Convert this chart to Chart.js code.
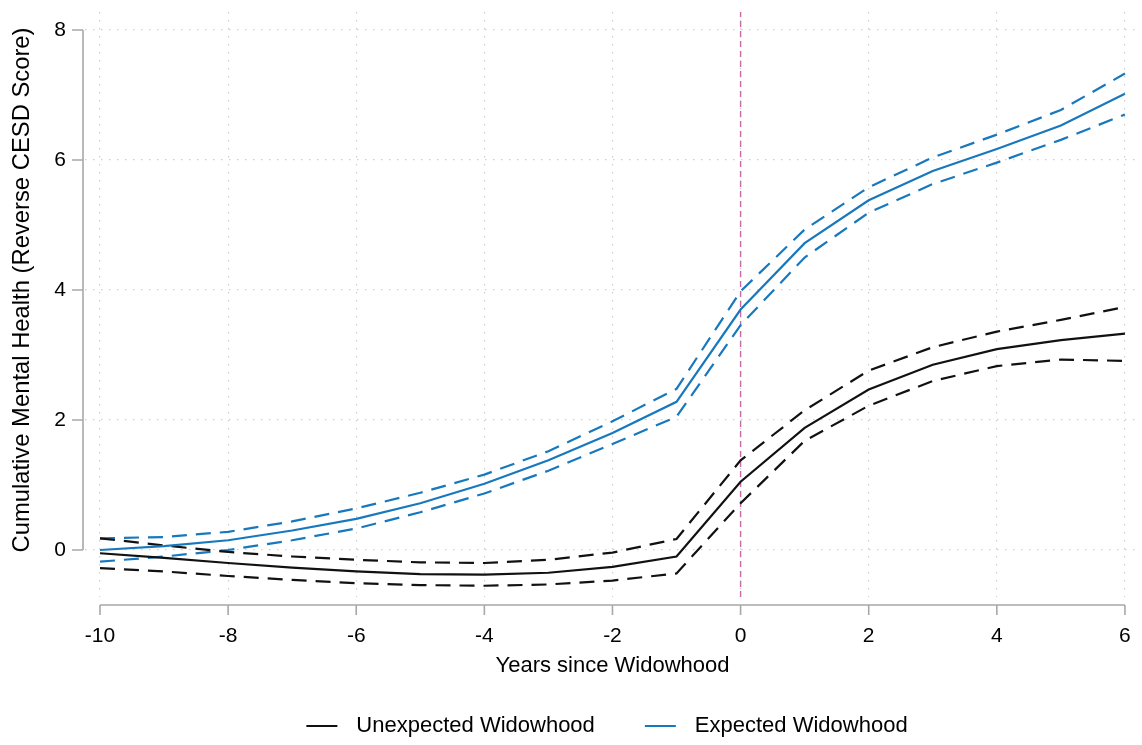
<!DOCTYPE html>
<html lang="en">
<head>
<meta charset="UTF-8">
<title>Cumulative Mental Health by Years since Widowhood</title>
<script src="https://cdn.jsdelivr.net/npm/chart.js"></script>
<style>
  body { margin: 0; background: #fff; }
  #wrap { width: 1142px; height: 745px; }
</style>
</head>
<body>
<div id="wrap"><canvas id="widowChart" width="1142" height="745"></canvas></div>
<script>
// data (years relative to widowhood)
const years = [-10, -9, -8, -7, -6, -5, -4, -3, -2, -1, 0, 1, 2, 3, 4, 5, 6];
const xTicks = [-10, -8, -6, -4, -2, 0, 2, 4, 6];
const yTicks = [0, 2, 4, 6, 8];

const unexpected   = [-0.05, -0.12, -0.20, -0.27, -0.33, -0.37, -0.38, -0.35, -0.26, -0.10, 1.05, 1.88, 2.47, 2.85, 3.09, 3.23, 3.33];
const unexpectedHi = [ 0.18,  0.07, -0.03, -0.10, -0.15, -0.19, -0.20, -0.15, -0.04,  0.17, 1.38, 2.15, 2.76, 3.12, 3.36, 3.54, 3.74];
const unexpectedLo = [-0.28, -0.33, -0.40, -0.46, -0.51, -0.54, -0.55, -0.53, -0.47, -0.36, 0.72, 1.68, 2.22, 2.60, 2.83, 2.93, 2.91];

const expected   = [ 0.00, 0.06, 0.15, 0.30, 0.48, 0.72, 1.02, 1.38, 1.80, 2.28, 3.70, 4.72, 5.38, 5.83, 6.17, 6.53, 7.02];
const expectedHi = [ 0.18, 0.20, 0.28, 0.44, 0.64, 0.88, 1.16, 1.52, 1.98, 2.48, 3.98, 4.93, 5.58, 6.04, 6.39, 6.77, 7.33];
const expectedLo = [-0.18, -0.10, 0.00, 0.15, 0.33, 0.58, 0.87, 1.22, 1.63, 2.05, 3.46, 4.50, 5.19, 5.63, 5.96, 6.31, 6.70];

const eventYear = 0;
const yTitle = 'Cumulative Mental Health (Reverse CESD Score)';

const BLACK = '#111111';
const BLUE = '#1878bd';
const PINK = '#c96aa5';
const FONT = '"Liberation Sans", Arial, sans-serif';

// axis extents (Stata leaves a small margin around the data range)
const xMin = -10.234, xMax = 6.235;
const yMin = -0.723, yMax = 8.277;

function pts(vals) {
    return years.map((yr, i) => ({ x: yr, y: vals[i] }));
}

// legend key: short line with some space around it
function legendSwatch(color) {
    const c = document.createElement('canvas');
    c.width = 79; c.height = 4;
    const g = c.getContext('2d');
    g.strokeStyle = color;
    g.lineWidth = 2;
    g.beginPath();
    g.moveTo(40, 2);
    g.lineTo(71, 2);
    g.stroke();
    return c;
}

function line(label, vals, color, dashed) {
    return {
        label: label,
        data: pts(vals),
        borderColor: color,
        backgroundColor: color,
        borderWidth: 2.2,
        borderDash: dashed ? [15, 9] : [],
        pointRadius: 0,
        pointStyle: dashed ? 'line' : legendSwatch(color),
        tension: 0,
        fill: false
    };
}

// Stata-like axis lines: only span the tick range, offset from the plot region
const axisLines = {
    id: 'axisLines',
    afterDraw(chart) {
        const { ctx, chartArea, scales: { x, y } } = chart;
        ctx.save();
        ctx.strokeStyle = '#a8a8a8';
        ctx.lineWidth = 1.6;
        ctx.beginPath();
        const yb = chartArea.bottom + 8;
        ctx.moveTo(x.getPixelForValue(xTicks[0]), yb);
        ctx.lineTo(x.getPixelForValue(xTicks[xTicks.length - 1]), yb);
        xTicks.forEach(v => {
            const px = x.getPixelForValue(v);
            ctx.moveTo(px, yb);
            ctx.lineTo(px, yb + 10);
        });
        const xl = chartArea.left - 2;
        const yTop = y.getPixelForValue(yTicks[yTicks.length - 1]);
        const yBot = y.getPixelForValue(yTicks[0]);
        ctx.moveTo(xl, yTop);
        ctx.lineTo(xl, yBot);
        yTicks.forEach(v => {
            const py = y.getPixelForValue(v);
            ctx.moveTo(xl, py);
            ctx.lineTo(xl - 11, py);
        });
        ctx.stroke();

        // y title is centred on the axis line, as Stata does
        ctx.translate(22, (yTop + yBot) / 2);
        ctx.rotate(-Math.PI / 2);
        ctx.fillStyle = '#000';
        ctx.font = '23.8px ' + FONT;
        ctx.textAlign = 'center';
        ctx.textBaseline = 'middle';
        ctx.fillText(yTitle, 0, 0);
        ctx.restore();
    }
};

// legend is centred on the plot region, not the whole canvas
const legendShift = {
    id: 'legendShift',
    afterLayout(chart) {
        const lg = chart.legend;
        lg.left += 17;
        lg.right += 17;
        lg.top += 2;
        lg.bottom += 2;
    }
};

const ctx = document.getElementById('widowChart').getContext('2d');
new Chart(ctx, {
    type: 'line',
    data: {
        datasets: [
            line('Unexpected Widowhood', unexpected, BLACK, false),
            line('Expected Widowhood', expected, BLUE, false),
            line('Unexpected upper', unexpectedHi, BLACK, true),
            line('Unexpected lower', unexpectedLo, BLACK, true),
            line('Expected upper', expectedHi, BLUE, true),
            line('Expected lower', expectedLo, BLUE, true),
            {
                label: 'Widowhood',
                data: [{ x: eventYear, y: yMin }, { x: eventYear, y: yMax }],
                borderColor: PINK,
                borderWidth: 1.4,
                borderDash: [6, 4],
                pointRadius: 0
            }
        ]
    },
    options: {
        responsive: false,
        animation: false,
        layout: { padding: { top: 12, right: 2, left: 0, bottom: 0 } },
        plugins: {
            tooltip: { enabled: false },
            legend: {
                position: 'bottom',
                labels: {
                    filter: item => item.datasetIndex < 2,
                    usePointStyle: true,
                    pointStyleWidth: 79,
                    padding: 10,
                    color: '#000',
                    font: { family: FONT, size: 22 }
                }
            }
        },
        scales: {
            x: {
                type: 'linear',
                min: xMin,
                max: xMax,
                afterBuildTicks: s => { s.ticks = xTicks.map(v => ({ value: v })); },
                afterFit: s => { s.height = 106; s.paddingLeft = 0; s.paddingRight = 0; },
                grid: { color: '#cfcfcf', lineWidth: 1.2, drawTicks: false },
                border: { display: false, dash: [1.5, 6.5] },
                ticks: {
                    autoSkip: false,
                    maxRotation: 0,
                    padding: 27,
                    color: '#000',
                    font: { family: FONT, size: 21 }
                },
                title: {
                    display: true,
                    text: 'Years since Widowhood',
                    color: '#000',
                    padding: { top: 0, bottom: 24 },
                    font: { family: FONT, size: 22 }
                }
            },
            y: {
                type: 'linear',
                min: yMin,
                max: yMax,
                afterBuildTicks: s => { s.ticks = yTicks.map(v => ({ value: v })); },
                afterFit: s => { s.width = 85; s.paddingTop = 0; s.paddingBottom = 0; },
                grid: { color: '#cfcfcf', lineWidth: 1.2, drawTicks: false },
                border: { display: false, dash: [1.5, 6.5] },
                ticks: {
                    padding: 19,
                    color: '#000',
                    font: { family: FONT, size: 21 }
                },
                title: { display: false }
            }
        }
    },
    plugins: [axisLines, legendShift]
});
</script>
</body>
</html>
